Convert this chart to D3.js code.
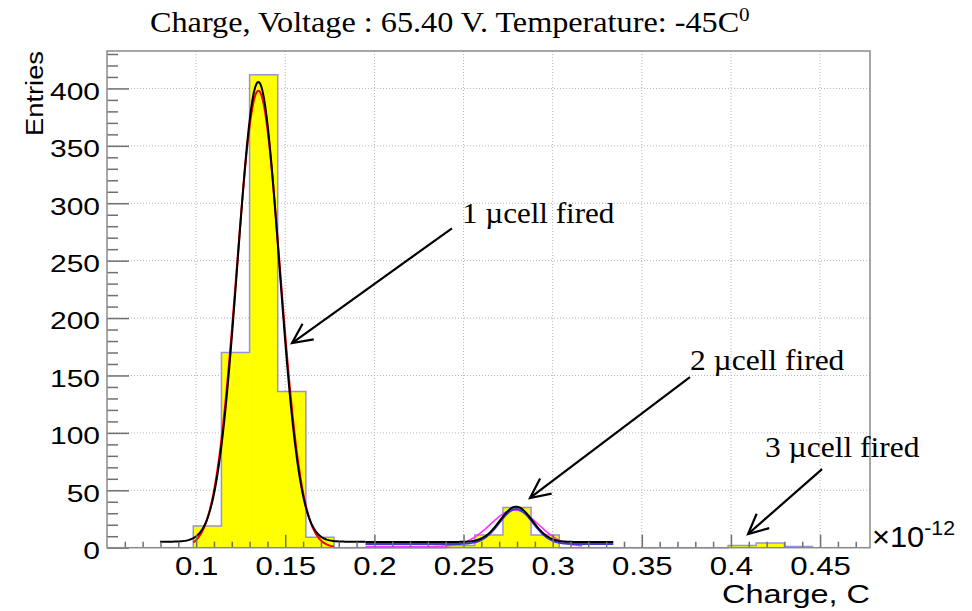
<!DOCTYPE html>
<html>
<head>
<meta charset="utf-8">
<script src="https://cdn.jsdelivr.net/npm/d3@7"></script>
<style>
  body { margin: 0; background: #fff; }
  svg { display: block; }
</style>
</head>
<body>
<script>
'use strict';

// Histogram of charge, x in units of 1e-12 C
const binLow = 0.0984;
const binWidth = 0.01579;
const binCounts = [19, 170, 412, 136, 9, 0, 0, 0, 0, 2, 11, 35, 11, 0, 0, 0, 0, 0, 0, 2, 4, 1];

// Gaussian fits drawn on top (gaus + constant), one entry per curve
const fitAmp   = [31.8, 30.5, 398, 400.5, 30.7];
const fitMean  = [0.2785, 0.2795, 0.1349, 0.1349, 0.2795];
const fitSigma = [0.0135, 0.0094, 0.0122, 0.0117, 0.0091];
const fitConst = [1.0, 3.2, 0, 5.2, 5.0];
const fitFrom  = [0.195, 0.195, 0.0984, 0.0797, 0.195];
const fitTo    = [0.3165, 0.334, 0.1774, 0.195, 0.334];

// Axis ticks
const xTicks = [0.1, 0.15, 0.2, 0.25, 0.3, 0.35, 0.4, 0.45];
const xTickLabels = ["0.1", "0.15", "0.2", "0.25", "0.3", "0.35", "0.4", "0.45"];
const xMinorTicks = d3.range(6, 48).map(d => d / 100);
const yTicks = [0, 50, 100, 150, 200, 250, 300, 350, 400];
const yMinorTicks = d3.range(0, 440, 10);

// Annotation texts
const noteLabels = ["1 \u00b5cell fired", "2 \u00b5cell fired", "3 \u00b5cell fired"];

// ---- layout / style ----
const W = 972, H = 611;
const frame = { left: 107, right: 870, top: 51, bottom: 547.7 };
const fitColors = ["#ff33ff", "#3a3acc", "#ff0000", "#000000", "#000000"];
const sans = "'Liberation Sans', Arial, Helvetica, sans-serif";
const serif = "'Liberation Serif', 'Times New Roman', serif";
// annotation placement in data coords: label [x, y], arrow tail, arrow tip
const noteLayout = [
	{ at: [0.2491, 282.6], tail: [0.2435, 278.2], tip: [0.1538, 178.2], width: 153 },
	{ at: [0.377, 154.8],  tail: [0.377, 148.6],  tip: [0.2873, 43.3],  width: 155 },
	{ at: [0.4191, 79],    tail: [0.4511, 68.5],  tip: [0.4096, 11.9],  width: 155 }
];

const svg = d3.select("body").append("svg")
	.attr("width", W)
	.attr("height", H);

svg.append("rect").attr("width", W).attr("height", H).attr("fill", "#fff");

const x = d3.scaleLinear().domain([0.05, 0.478]).range([frame.left, frame.right]);
const y = d3.scaleLinear().domain([0, 432.6]).range([frame.bottom, frame.top]);

// Horizontal factor that makes a text span the given width.
function fitText(sel, width)
{
	let w = sel.node().getBBox().width;
	return width / w;
}

// Grid (under the histogram)
const grid = svg.append("g").attr("class", "grid");
grid.selectAll("line.gx")
	.data(xTicks)
	.enter()
	.append("line")
	.attr("x1", d => x(d)).attr("x2", d => x(d))
	.attr("y1", frame.top).attr("y2", frame.bottom);
grid.selectAll("line.gy")
	.data(yTicks.filter(d => d > 0))
	.enter()
	.append("line")
	.attr("x1", frame.left).attr("x2", frame.right)
	.attr("y1", d => y(d)).attr("y2", d => y(d));
grid.selectAll("line")
	.attr("stroke", "#b4b4b4")
	.attr("stroke-width", 1)
	.attr("stroke-dasharray", "1,2");

// Histogram bars
const bins = binCounts.map((c, i) => ({ x0: binLow + i * binWidth, x1: binLow + (i + 1) * binWidth, n: c }));
svg.append("g")
	.selectAll("rect")
	.data(bins.filter(b => b.n > 0))
	.enter()
	.append("rect")
	.attr("x", d => x(d.x0))
	.attr("width", d => x(d.x1) - x(d.x0))
	.attr("y", d => y(d.n))
	.attr("height", d => y(0) - y(d.n))
	.attr("fill", "#ffff00");

// Histogram outline as a step line
let steps = [];
bins.forEach(b => { steps.push([b.x0, b.n]); steps.push([b.x1, b.n]); });
steps.unshift([binLow, 0]);
steps.push([binLow + bins.length * binWidth, 0]);
svg.append("path")
	.datum(steps)
	.attr("d", d3.line().x(d => x(d[0])).y(d => y(d[1])))
	.attr("fill", "none")
	.attr("stroke", "#9494dc")
	.attr("stroke-width", 1.5);

// Fit curves
const curveLine = d3.line().x(d => x(d[0])).y(d => y(d[1]));
for (let i = 0; i < fitAmp.length; i++)
{
	let pts = [];
	let n = 160;
	for (let k = 0; k <= n; k++)
	{
		let v = fitFrom[i] + (fitTo[i] - fitFrom[i]) * k / n;
		let z = (v - fitMean[i]) / fitSigma[i];
		pts.push([v, fitAmp[i] * Math.exp(-0.5 * z * z) + fitConst[i]]);
	}
	svg.append("path")
		.datum(pts)
		.attr("d", curveLine)
		.attr("fill", "none")
		.attr("stroke", fitColors[i])
		.attr("stroke-width", i == 0 ? 1.6 : 2);
}

// Axes
const tickColor = "#707070";
const yAxis = svg.append("g")
	.attr("transform", `translate(${frame.left},0)`)
	.call(d3.axisLeft(y).tickValues(yTicks).tickSize(-22).tickPadding(7));
const yMinor = svg.append("g")
	.attr("transform", `translate(${frame.left},0)`)
	.call(d3.axisLeft(y).tickValues(yMinorTicks.filter(d => d % 50 != 0)).tickSize(-11).tickFormat(""));
const xAxis = svg.append("g")
	.attr("transform", `translate(0,${frame.bottom})`)
	.call(d3.axisBottom(x).tickValues(xTicks).tickSize(-13).tickPadding(9.5)
		.tickFormat((d, i) => xTickLabels[i]));
const xMinor = svg.append("g")
	.attr("transform", `translate(0,${frame.bottom})`)
	.call(d3.axisBottom(x).tickValues(xMinorTicks.filter(d => Math.round(d * 100) % 5 != 0)).tickSize(-6).tickFormat(""));

[yAxis, yMinor, xAxis, xMinor].forEach(g => {
	g.select(".domain").remove();
	g.selectAll(".tick line").attr("stroke", tickColor).attr("stroke-width", 1.5);
});

yAxis.selectAll("text")
	.attr("font-family", sans).attr("font-size", 24).attr("fill", "#000")
	.attr("dy", "0.45em");
xAxis.selectAll("text")
	.attr("font-family", sans).attr("font-size", 25).attr("fill", "#000");

// tick labels are drawn wider than the plain font
let labelScale = fitText(yAxis.selectAll("text").filter(d => d == 400), 50);
yAxis.selectAll("text")
	.attr("x", -7 / labelScale)
	.attr("transform", `scale(${labelScale},1)`);
xAxis.selectAll("text")
	.attr("transform", `scale(${labelScale},1)`);

// Frame
svg.append("rect")
	.attr("x", frame.left).attr("y", frame.top)
	.attr("width", frame.right - frame.left)
	.attr("height", frame.bottom - frame.top)
	.attr("fill", "none")
	.attr("stroke", "#8a8a8a")
	.attr("stroke-width", 1.5);

// Axis titles
const entries = svg.append("text")
	.attr("font-family", sans).attr("font-size", 24).attr("text-anchor", "end")
	.text("Entries");
let es = fitText(entries, 85);
entries.attr("transform", `translate(43,${frame.top}) rotate(-90) scale(${es},1)`);

const xTitle = svg.append("text")
	.attr("font-family", sans).attr("font-size", 25).attr("text-anchor", "end")
	.text("Charge, C");
let xs = fitText(xTitle, 148);
xTitle.attr("transform", `translate(${frame.right},603) scale(${xs},1)`);

const expo = svg.append("text")
	.attr("font-family", sans).attr("font-size", 29);
expo.append("tspan").text("\u00d710");
expo.append("tspan").attr("font-size", 20).attr("dy", -12).text("-12");
let exs = fitText(expo, 83);
expo.attr("transform", `translate(872,547) scale(${exs},1)`);

// Title
const title = svg.append("text")
	.attr("font-family", serif).attr("font-size", 29);
title.append("tspan").text("Charge, Voltage : 65.40 V. Temperature: -45C");
title.append("tspan").attr("font-size", 19).attr("dy", -11).text("0");
let ts = fitText(title, 600);
title.attr("transform", `translate(150,32) scale(${ts},1)`);

// Annotations with arrows
noteLayout.forEach((a, i) => {
	let t = svg.append("text")
		.attr("font-family", serif).attr("font-size", 29)
		.text(noteLabels[i]);
	let s = fitText(t, a.width);
	t.attr("transform", `translate(${x(a.at[0])},${y(a.at[1])}) scale(${s},1)`);

	let x0 = x(a.tail[0]), y0 = y(a.tail[1]);
	let x1 = x(a.tip[0]), y1 = y(a.tip[1]);
	let ang = Math.atan2(y0 - y1, x0 - x1);
	let len = 22, spread = 0.45;
	let g = svg.append("g").attr("stroke", "#000").attr("stroke-width", 2.2).attr("fill", "none");
	g.append("line").attr("x1", x0).attr("y1", y0).attr("x2", x1).attr("y2", y1);
	g.append("path").attr("d",
		`M${x1 + len * Math.cos(ang + spread)},${y1 + len * Math.sin(ang + spread)}` +
		`L${x1},${y1}` +
		`L${x1 + len * Math.cos(ang - spread)},${y1 + len * Math.sin(ang - spread)}`);
});
</script>
</body>
</html>
